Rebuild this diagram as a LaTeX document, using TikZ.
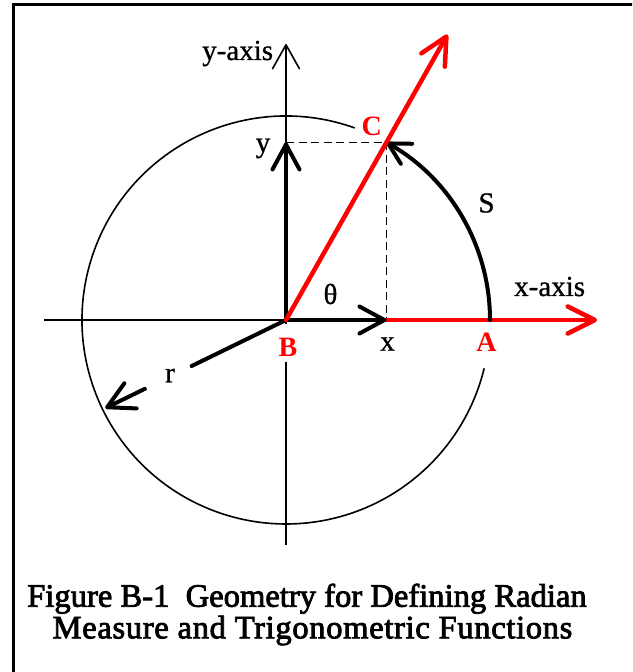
\documentclass[tikz,border=0pt]{standalone}
\usepackage{fontspec}
\setmainfont{Liberation Serif}
\newfontfamily\capfont[FakeBold=2.5]{Liberation Serif}
\newfontfamily\lblfont[FakeBold=0.8]{Liberation Serif}
\usetikzlibrary{arrows.meta,calc}
\definecolor{redline}{RGB}{255,0,0}
\begin{document}
\begin{tikzpicture}[x=1pt,y=1pt,
  thinline/.style={line width=1.6pt,black},
  thickline/.style={line width=4pt,black,line cap=round},
  redthick/.style={line width=4.5pt,redline,line cap=round},
  dashline/.style={line width=1.6pt,black,dash pattern=on 8pt off 4.5pt},
  lbl/.style={inner sep=0pt,font=\lblfont\fontsize{29}{31}\selectfont},
  redlbl/.style={inner sep=0pt,text=redline,font=\fontsize{28}{30}\selectfont\bfseries},
  caption/.style={inner sep=0pt,font=\capfont\fontsize{32.6}{34}\selectfont},
  axtip/.tip={Straight Barb[length=24pt,width=27pt,round]},
  redtip/.tip={Straight Barb[length=27pt,width=27pt,round]},
  blktip/.tip={Straight Barb[length=25pt,width=27pt,round]},
  rtip/.tip={Straight Barb[length=26pt,width=28pt,round]},
  arctip/.tip={Straight Barb[length=21pt,width=23pt,round]}]
\useasboundingbox (-286,-352) rectangle (346,320);
% frame
\begin{scope}
\clip (-286,-352) rectangle (346,320);
\draw[line width=3pt] (350,315.3) -- (-272,315.3) -- (-272,-356);
\end{scope}
% named points
\coordinate (B) at (0,0);
\coordinate (A) at (204,0);
\coordinate (C) at (60.5:204);
\coordinate (Cy) at (B |- C);
\coordinate (Cx) at (C |- B);
\coordinate (ytop) at (0,276);
\coordinate (ystub) at (0,-4);
\coordinate (ybot1) at (0,-41.7);
\coordinate (ybot2) at (0,-225);
\coordinate (xleft) at (-241.5,0);
\coordinate (xend) at (311,0);
\coordinate (rend) at (60.5:328);
\coordinate (r1) at (206:105);
\coordinate (r2) at (206:157);
\coordinate (r3) at (206:201);
% thin circle (open near C and A)
\draw[thinline] (70.3:204) arc[start angle=70.3,end angle=346.3,radius=204];
% axes
\draw[thinline] (xleft) -- (B);
\draw[thinline,-axtip] (ystub) -- (ytop);
\draw[thinline] (ybot1) -- (ybot2);
% dashed projections
\draw[dashline] (Cy) -- (C) -- (Cx);
% red x-axis
\draw[redthick,-redtip] (B) -- (xend);
% black component arrows
\draw[thickline,-blktip] (B) -- (Cy);
\draw[thickline,-blktip] (B) -- (Cx);
% radius arrow with gap for label
\draw[thickline] (B) -- (r1);
\draw[thickline,-rtip] (r2) -- (r3);
% arc S
\draw[thickline,-arctip] (A) arc[start angle=0,end angle=60.5,radius=204];
% red ray
\draw[redthick,-redtip] (B) -- (rend);
% labels
\node[lbl,anchor=base east] (lyaxis) at (-12.7,260) {y-axis};
\node[lbl,anchor=base] (ly) at (-23,168) {y};
\node[redlbl] (lC) at (85.7,193.7) {C};
\node[lbl] (lS) at (200.5,117) {S};
\node[lbl] (ltheta) at (44.5,26) {θ};
\node[lbl,anchor=base west] (lxaxis) at (228,24) {x-axis};
\node[redlbl] (lB) at (2,-27) {B};
\node[lbl] (lx) at (101.5,-24) {x};
\node[redlbl] (lA) at (200.5,-22.5) {A};
\node[lbl] (lr) at (-116,-55.5) {r};
% caption
\node[caption,anchor=base] (cap1) at (21,-286.7) {Figure B-1~~Geometry for Defining Radian};
\node[caption,anchor=base,font=\capfont\addfontfeature{LetterSpace=2}\fontsize{32.6}{34}\selectfont] (cap2) at (26.5,-318.3) {Measure and Trigonometric Functions};
\end{tikzpicture}
\end{document}
